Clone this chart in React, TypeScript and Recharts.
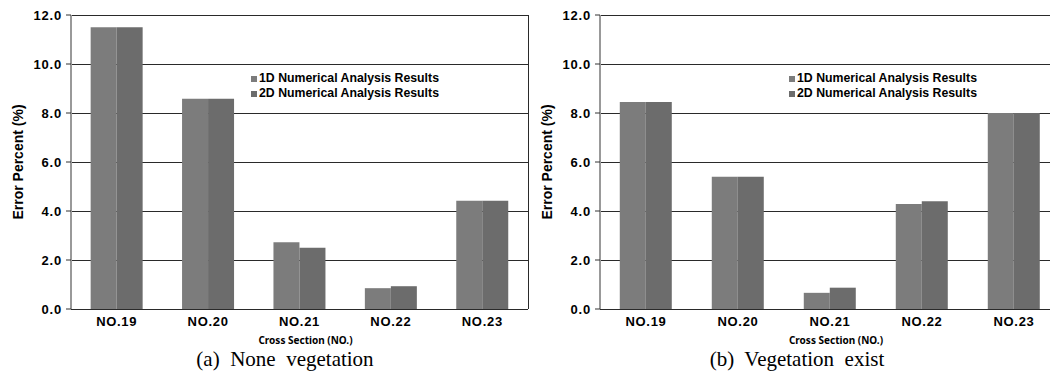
import {
  BarChart,
  Bar,
  XAxis,
  YAxis,
  CartesianGrid,
  Legend,
  Label,
} from "recharts";

const categories = ["NO.19", "NO.20", "NO.21", "NO.22", "NO.23"];
const seriesNames = ["1D Numerical Analysis Results", "2D Numerical Analysis Results"];
const noneVeg1D = [11.5, 8.58, 2.72, 0.85, 4.42];
const noneVeg2D = [11.5, 8.58, 2.5, 0.93, 4.42];
const veg1D = [8.45, 5.4, 0.66, 4.29, 8.0];
const veg2D = [8.45, 5.4, 0.87, 4.4, 8.0];
const yTicks = [0, 2, 4, 6, 8, 10, 12];
const captions = ["(a)  None  vegetation", "(b)  Vegetation  exist"];

const COLOR_1D = "#7c7c7c";
const COLOR_2D = "#6c6c6c";
const ARIAL = "'Liberation Sans', Arial, sans-serif";

function XTick({ x, y, payload }: any) {
  return (
    <text x={x} y={y} dy="0.71em" textAnchor="middle" fill="#000"
      style={{ fontFamily: ARIAL, fontWeight: 700, fontSize: 13, letterSpacing: 0.7 }}>
      {payload.value}
    </text>
  );
}

function LegendBox({ payload }: any) {
  return (
    <div style={{ fontFamily: ARIAL, fontWeight: 700, fontSize: 12.3, lineHeight: "15px", color: "#000" }}>
      {(payload ?? []).map((p: any) => (
        <div key={p.value} style={{ display: "flex", alignItems: "center", whiteSpace: "nowrap" }}>
          <span style={{ width: 6, height: 6, background: p.color, marginRight: 2, display: "inline-block" }} />
          {p.value}
        </div>
      ))}
    </div>
  );
}

interface PanelProps {
  left: number;
  v1: number[];
  v2: number[];
  rightBorder: boolean;
  legendLeft: number;
}

function Panel({ left, v1, v2, rightBorder, legendLeft }: PanelProps) {
  const data = categories.map((c, i) => ({ name: c, a: v1[i], b: v2[i] }));
  return (
    <div style={{ position: "absolute", left, top: 0, width: 531, height: 372 }}>
      <BarChart width={rightBorder ? 530 : 531} height={372} data={data}
        margin={{ top: 15, right: 0, bottom: 0, left: 0 }}
        barCategoryGap="21.5%" barGap={0}>
        <CartesianGrid yAxisId="l" vertical={false} stroke="#2a2a2a" shapeRendering="crispEdges" />
        <XAxis dataKey="name" height={63} axisLine={{ stroke: "#2a2a2a", shapeRendering: "crispEdges" }}
          tickLine={false} tick={<XTick />}>
          <Label
            content={({ viewBox }: any) => (
              <text x={viewBox.x + viewBox.width / 2 + 6} y={viewBox.y + 35} textAnchor="middle" fill="#000"
                style={{ fontFamily: "'Noto Sans', sans-serif", fontWeight: 700, fontSize: 10 }}>
                Cross Section (NO.)
              </text>
            )}
          />
        </XAxis>
        <YAxis yAxisId="l" width={71} domain={[0, 12]} ticks={yTicks} interval={0}
          tickFormatter={(v: number) => v.toFixed(1)}
          axisLine={{ stroke: "#999", strokeWidth: 2 }}
          tickLine={{ stroke: "#333" }} tickSize={5} tickMargin={4}
          tick={{ fill: "#000", fontFamily: ARIAL, fontWeight: 700, fontSize: 13, letterSpacing: 0.8 }}>
          <Label value="Error Percent (%)" angle={-90} position="insideLeft" offset={18}
            style={{ textAnchor: "middle", fill: "#000", fontFamily: ARIAL, fontWeight: 700, fontSize: 14 }} />
        </YAxis>
        {rightBorder && (
          <YAxis yAxisId="r" orientation="right" width={2} domain={[0, 12]} tick={false} tickLine={false}
            axisLine={{ stroke: "#2a2a2a", shapeRendering: "crispEdges" }} />
        )}
        <Legend layout="vertical" verticalAlign="middle" align="center" content={<LegendBox />}
          wrapperStyle={{ position: "absolute", left: legendLeft, top: 71, width: "auto", height: "auto" }} />
        <Bar yAxisId="l" dataKey="a" name={seriesNames[0]} fill={COLOR_1D} isAnimationActive={false} />
        <Bar yAxisId="l" dataKey="b" name={seriesNames[1]} fill={COLOR_2D} isAnimationActive={false} />
      </BarChart>
    </div>
  );
}

const captionStyle: React.CSSProperties = {
  position: "absolute", top: 349, width: 300, textAlign: "center", whiteSpace: "pre",
  fontFamily: "'Liberation Serif', 'Times New Roman', serif", fontSize: 21, lineHeight: "21px",
};

export default function App() {
  return (
    <div style={{ position: "absolute", left: 0, top: 0, width: 1050, height: 372, overflow: "hidden", background: "#fff" }}>
      <Panel left={0} v1={noneVeg1D} v2={noneVeg2D} rightBorder legendLeft={251} />
      <Panel left={529} v1={veg1D} v2={veg2D} rightBorder={false} legendLeft={260} />
      <div style={{ ...captionStyle, left: 285 - 150 }}>{captions[0]}</div>
      <div style={{ ...captionStyle, left: 797 - 150 }}>{captions[1]}</div>
    </div>
  );
}
